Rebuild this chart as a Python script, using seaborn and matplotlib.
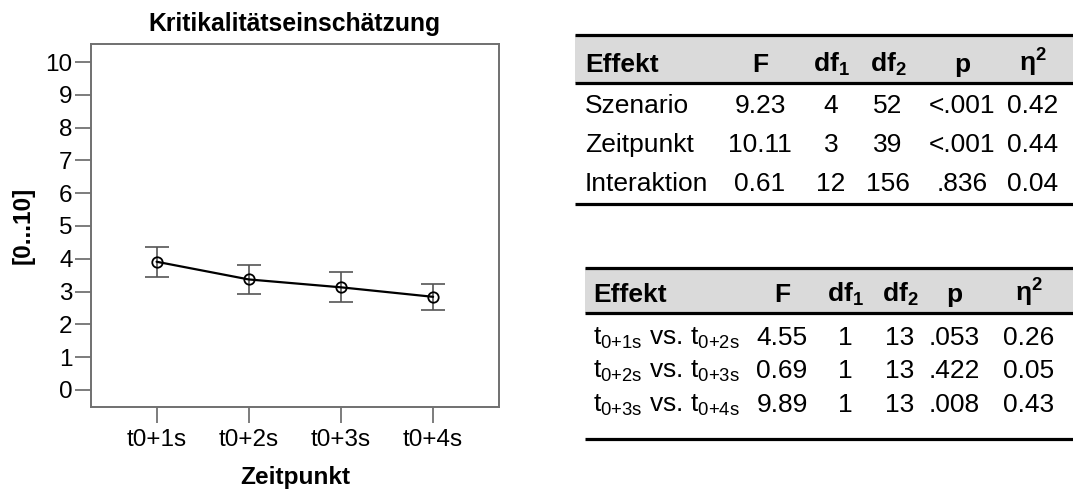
import numpy as np
import pandas as pd
import matplotlib
matplotlib.use("Agg")
import matplotlib.pyplot as plt
from matplotlib.patches import Rectangle
import seaborn as sns

# ---------------- data ----------------
times = ["t0+1s", "t0+2s", "t0+3s", "t0+4s"]
means = [3.91, 3.37, 3.13, 2.84]
ci_low = [3.43, 2.94, 2.67, 2.45]
ci_high = [4.37, 3.81, 3.59, 3.23]
yticks = list(range(0, 11))

headers = ["Effekt", "F", r"$\mathbf{df_1}$", r"$\mathbf{df_2}$", "p", r"$\mathbf{\eta}^{\mathbf{2}}$"]

t1_effekt = ["Szenario", "Zeitpunkt", "Interaktion"]
t1_F = ["9.23", "10.11", "0.61"]
t1_df1 = ["4", "3", "12"]
t1_df2 = ["52", "39", "156"]
t1_p = ["<.001", "<.001", ".836"]
t1_eta = ["0.42", "0.44", "0.04"]

t2_effekt = [r"t$_{\mathregular{0{+}1s}}$ vs. t$_{\mathregular{0{+}2s}}$",
             r"t$_{\mathregular{0{+}2s}}$ vs. t$_{\mathregular{0{+}3s}}$",
             r"t$_{\mathregular{0{+}3s}}$ vs. t$_{\mathregular{0{+}4s}}$"]
t2_F = ["4.55", "0.69", "9.89"]
t2_df1 = ["1", "1", "1"]
t2_df2 = ["13", "13", "13"]
t2_p = [".053", ".422", ".008"]
t2_eta = ["0.26", "0.05", "0.43"]

# ---------------- style ----------------
sns.set_theme(style="white")
plt.rcParams["font.family"] = ["Liberation Sans", "DejaVu Sans"]
plt.rcParams["text.color"] = "black"
plt.rcParams["axes.labelcolor"] = "black"
plt.rcParams["mathtext.fontset"] = "custom"
plt.rcParams["mathtext.rm"] = "Liberation Sans"
plt.rcParams["mathtext.it"] = "Liberation Sans:italic"
plt.rcParams["mathtext.bf"] = "Liberation Sans:bold"

W, H = 1073, 494
fig = plt.figure(figsize=(W / 100, H / 100), dpi=100)
fig.patch.set_facecolor("white")

L, R, T, B = 90.7, 499, 44, 407
ax = fig.add_axes([L / W, 1 - B / H, (R - L) / W, (B - T) / H])

x = np.arange(len(times))
df = pd.DataFrame({"x": x, "mean": means})
m = np.array(means)
lo = np.array(ci_low)
hi = np.array(ci_high)

ax.errorbar(x, m, yerr=[m - lo, hi - m], fmt="none", ecolor="#555555",
            elinewidth=1.2, capsize=8.5, capthick=1.2, zorder=2)
sns.lineplot(data=df, x="x", y="mean", ax=ax, color="black", linewidth=1.6,
             marker="o", markersize=7.5, markerfacecolor="none",
             markeredgecolor="black", markeredgewidth=1.3, sort=False, zorder=3)

ax.set_xlim(-0.715, 3.715)
ax.set_ylim(-0.52, 10.55)
ax.set_xticks(x)
ax.set_xticklabels(times)
ax.set_yticks(yticks)
ax.set_yticklabels([str(v) for v in yticks])
ax.tick_params(axis="both", which="major", direction="out", length=11.5,
               width=1.2, color="#666666", labelsize=17.5, labelcolor="black",
               bottom=True, left=True, top=False, right=False)
ax.tick_params(axis="y", pad=1.5)
ax.tick_params(axis="x", pad=4)
for s in ax.spines.values():
    s.set_color("#707070")
    s.set_linewidth(1.4)
    s.set_visible(True)

ax.set_title("Kritikalitätseinschätzung", fontsize=17.8, fontweight="bold",
             pad=9, color="black")
ax.set_xlabel("Zeitpunkt", fontsize=17.6, fontweight="bold", color="black")
ax.set_ylabel("[0...10]", fontsize=17.6, fontweight="bold", color="black")
ax.xaxis.set_label_coords(0.5, -0.163)
ax.yaxis.set_label_coords(-0.137, 0.5)

# ---------------- tables ----------------
tax = fig.add_axes([0, 0, 1, 1], zorder=5)
tax.set_xlim(0, W)
tax.set_ylim(H, 0)
tax.axis("off")
tax.patch.set_alpha(0)

FS = 19


def draw_table(x0, top, head_bot, bottom, head_base, row_bases, left_text,
               col_centers, cols):
    tax.add_patch(Rectangle((x0, top), W - x0, head_bot - top,
                            facecolor="#dadada", edgecolor="none"))
    for yy in (top, head_bot, bottom):
        tax.plot([x0, W], [yy, yy], color="black", lw=2.3, solid_capstyle="butt")
    tax.text(left_text, head_base, headers[0], fontsize=FS, fontweight="bold",
             ha="left", va="baseline")
    for cx, h in zip(col_centers, headers[1:]):
        tax.text(cx, head_base, h, fontsize=FS, fontweight="bold",
                 ha="center", va="baseline")
    for i, yb in enumerate(row_bases):
        tax.text(left_text, yb, cols[0][i], fontsize=FS, ha="left", va="baseline")
        for cx, col in zip(col_centers, cols[1:]):
            tax.text(cx, yb, col[i], fontsize=FS, ha="center", va="baseline")


draw_table(575, 35, 83, 204, 72, [113, 152, 191], 585,
           [760, 831, 888, 962, 1033],
           [t1_effekt, t1_F, t1_df1, t1_df2, t1_p, t1_eta])
draw_table(585, 268, 313, 439, 302, [345, 378, 412], 593,
           [782, 845, 900, 954, 1029],
           [t2_effekt, t2_F, t2_df1, t2_df2, t2_p, t2_eta])

fig.savefig("out.png", dpi=100, facecolor="white")
